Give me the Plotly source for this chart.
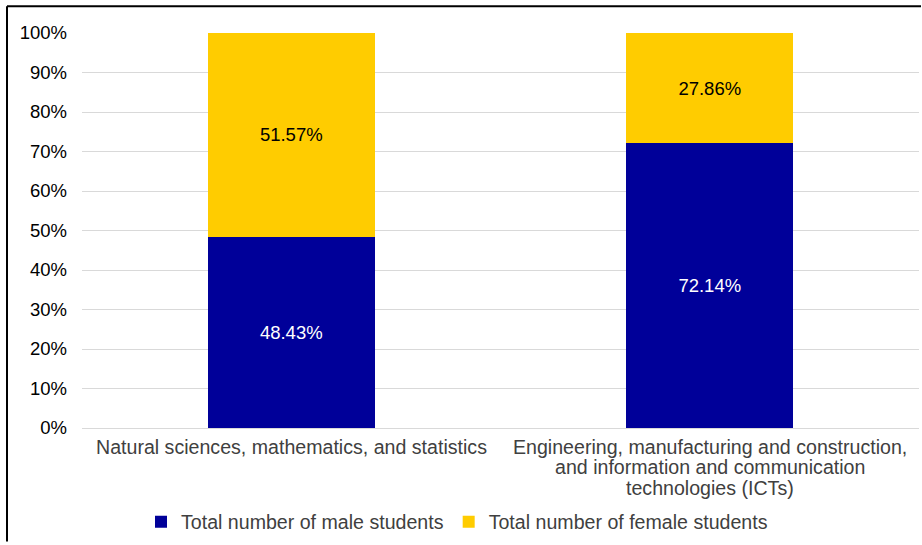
import plotly.graph_objects as go

categories = [
    "Natural sciences, mathematics, and statistics",
    "Engineering, manufacturing and construction,<br>and information and communication<br>technologies (ICTs)",
]
male_share = [48.43, 72.14]
female_share = [51.57, 27.86]
male_name = "Total number of male students"
female_name = "Total number of female students"
tick_vals = [0, 10, 20, 30, 40, 50, 60, 70, 80, 90, 100]
tick_text = [f"{v}%" for v in tick_vals]

FONT = "Liberation Sans, Arial, Helvetica, sans-serif"
FS = 18.5
FS_CAT = 19.6

fig = go.Figure()
fig.add_trace(go.Bar(
    x=categories, y=male_share, name=male_name,
    marker=dict(color="#000099", line=dict(width=0)),
    text=[f"{v:.2f}%" for v in male_share], textposition="inside",
    insidetextanchor="middle",
    textfont=dict(color="white", size=FS, family=FONT),
))
fig.add_trace(go.Bar(
    x=categories, y=female_share, name=female_name,
    marker=dict(color="#FFCC00", line=dict(width=0)),
    text=[f"{v:.2f}%" for v in female_share], textposition="inside",
    insidetextanchor="middle",
    textfont=dict(color="black", size=FS, family=FONT),
))

L, R, T, B = 82, 3, 33, 115
W, H = 922, 545
pw, ph = W - L - R, H - T - B

def px_x(px):
    return (px - L) / pw

def px_y(py):
    return (H - B - py) / ph

# category labels: one annotation per line for tighter line spacing
annotations = []
for cat in categories:
    for i, line in enumerate(cat.split("<br>")):
        annotations.append(dict(
            x=cat, xref="x", y=px_y(449 + i * 20.5), yref="paper",
            text=line, showarrow=False, xanchor="center", yanchor="middle",
            font=dict(size=FS_CAT, color="#404040", family=FONT),
        ))

fig.update_layout(
    barmode="stack",
    bargap=0.6,
    width=W, height=H,
    margin=dict(l=L, r=R, t=T, b=B),
    paper_bgcolor="white", plot_bgcolor="white",
    font=dict(family=FONT, size=FS, color="#404040"),
    uniformtext=dict(mode="show", minsize=10),
    xaxis=dict(
        showgrid=False, showline=False, ticks="", showticklabels=False,
    ),
    yaxis=dict(
        range=[0, 100], tickvals=tick_vals, ticktext=tick_text,
        showgrid=True, gridcolor="#D9D9D9", gridwidth=1,
        zeroline=True, zerolinecolor="#D9D9D9", zerolinewidth=1,
        showline=False, ticks="", ticklen=0, ticklabelstandoff=14,
        tickfont=dict(size=FS, color="#000000"),
        automargin=False,
    ),
    legend=dict(
        orientation="h", x=px_x(141), xanchor="left",
        y=px_y(544), yanchor="bottom",
        font=dict(size=FS_CAT, color="#404040"),
        itemwidth=30, traceorder="normal",
    ),
    annotations=annotations,
    showlegend=True,
    shapes=[
        dict(type="line", xref="paper", yref="paper",
             x0=px_x(7), x1=px_x(921), y0=px_y(6), y1=px_y(6),
             line=dict(color="black", width=2)),
        dict(type="line", xref="paper", yref="paper",
             x0=px_x(7), x1=px_x(7), y0=px_y(6), y1=px_y(544),
             line=dict(color="black", width=2)),
    ],
)
fig.update_xaxes(automargin=False)

fig.write_html(
    "out.html",
    config={"displayModeBar": False},
    post_script=(
        "document.documentElement.style.overflow='hidden';"
        "document.body.style.overflow='hidden';"
        "document.body.style.margin='0';document.body.style.padding='0';"
        "var g=document.querySelector('.plotly-graph-div');"
        "if(g){g.style.overflow='hidden';}"
    ),
)
